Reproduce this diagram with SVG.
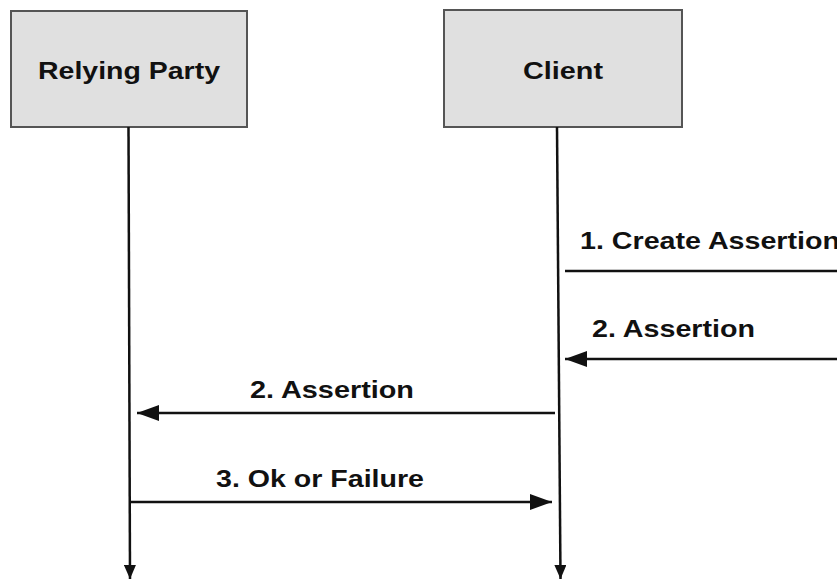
<svg xmlns="http://www.w3.org/2000/svg" width="837" height="579" viewBox="0 0 837 579">
  <style>
    .box { fill: #e0e0e0; stroke: #555555; stroke-width: 2; }
    .lbl { font-family: "Liberation Sans", Arial, sans-serif; font-weight: bold; font-size: 24px; fill: #111111; }
    .wire { stroke: #111111; stroke-width: 2.5; fill: none; }
  </style>
  <defs>
    <marker id="head" viewBox="0 0 22 16" refX="22" refY="8" markerWidth="22" markerHeight="16" markerUnits="userSpaceOnUse" orient="auto">
      <path d="M0,0 L22,8 L0,16 Z" fill="#111111"/>
    </marker>
    <marker id="tail" viewBox="0 0 14 12" refX="14" refY="6" markerWidth="14" markerHeight="12" markerUnits="userSpaceOnUse" orient="auto">
      <path d="M0,0 L14,6 L0,12 Z" fill="#111111"/>
    </marker>
  </defs>
  <rect width="837" height="579" fill="#ffffff"/>

  <g id="relying-party">
    <rect class="box" x="11" y="11" width="236" height="116"/>
    <text class="lbl" x="38" y="79" textLength="182" lengthAdjust="spacingAndGlyphs">Relying Party</text>
  </g>

  <g id="client">
    <rect class="box" x="444" y="10" width="238" height="117"/>
    <text class="lbl" x="523" y="79" textLength="80" lengthAdjust="spacingAndGlyphs">Client</text>
  </g>

  <g id="connectors">
    <!-- lifelines -->
    <line class="wire" x1="128.5" y1="127" x2="130" y2="579" marker-end="url(#tail)"/>
    <line class="wire" x1="557" y1="127" x2="560.5" y2="579" marker-end="url(#tail)"/>

    <!-- 1. Create Assertion (runs off to the right) -->
    <line class="wire" x1="565" y1="271" x2="840" y2="271"/>
    <text class="lbl" x="580" y="249" textLength="260" lengthAdjust="spacingAndGlyphs">1. Create Assertion</text>

    <!-- 2. Assertion returned to client -->
    <line class="wire" x1="840" y1="359" x2="565" y2="359" marker-end="url(#head)"/>
    <text class="lbl" x="592" y="337" textLength="163" lengthAdjust="spacingAndGlyphs">2. Assertion</text>

    <!-- 2. Assertion forwarded to relying party -->
    <line class="wire" x1="555" y1="413" x2="137" y2="413" marker-end="url(#head)"/>
    <text class="lbl" x="250" y="398" textLength="164" lengthAdjust="spacingAndGlyphs">2. Assertion</text>

    <!-- 3. Ok or Failure -->
    <line class="wire" x1="130" y1="502" x2="552" y2="502" marker-end="url(#head)"/>
    <text class="lbl" x="216" y="487" textLength="208" lengthAdjust="spacingAndGlyphs">3. Ok or Failure</text>
  </g>
</svg>
